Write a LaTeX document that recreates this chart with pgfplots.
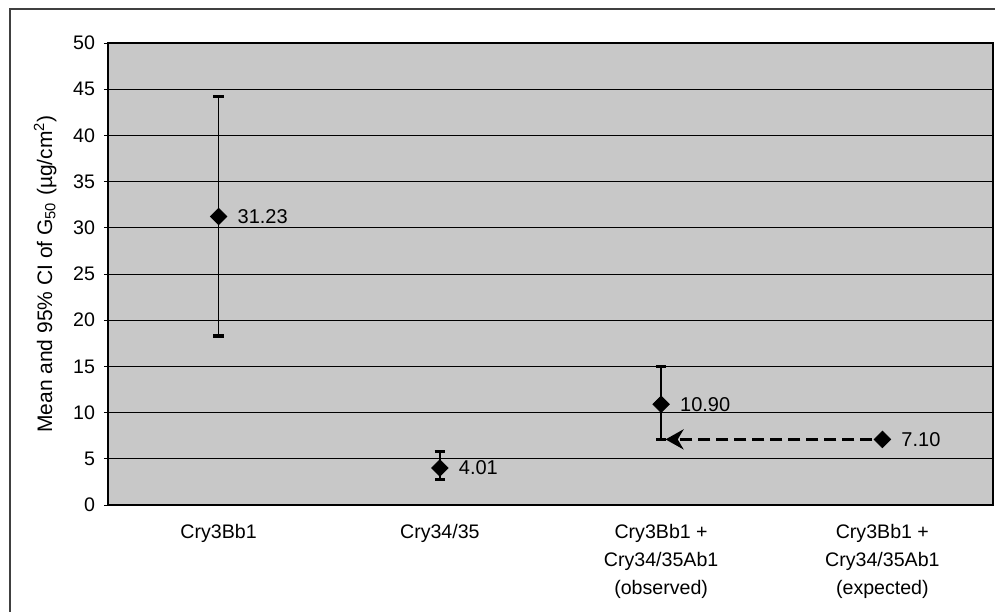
\documentclass[border=0pt]{standalone}
\usepackage{fontspec}
\setmainfont{Liberation Sans}
\usepackage{pgfplots}
\usepackage{pgfplotstable}
\pgfplotsset{compat=1.18}
\usetikzlibrary{arrows.meta}
\definecolor{plotgray}{RGB}{200,200,200}

% mean, upper and lower half-width of the 95% CI
\pgfplotstableread{
x   y     ep    em    lab
0.5 31.23 12.97 12.93 31.23
1.5 4.01  1.79  1.21  4.01
2.5 10.90 4.10  3.80  10.90
}\observed
\pgfplotstableread{
x   y    lab
3.5 7.10 7.10
}\expected

\begin{document}
\begin{tikzpicture}
\path[use as bounding box] (-54pt,-53pt) rectangle (443.5pt,252.5pt);
\draw[line width=0.7pt,black!75] (-49pt,-60pt) -- (-49pt,248pt) -- (450pt,248pt);
\begin{axis}[
  at={(0pt,0pt)}, anchor=south west,
  scale only axis, width=442.5pt, height=231pt,
  xmin=0, xmax=4, ymin=0, ymax=50,
  ytick={0,5,...,50},
  xtick={0.5,1.5,2.5,3.5},
  xticklabels={Cry3Bb1, Cry34/35, {Cry3Bb1 +\\Cry34/35Ab1\\(observed)}, {Cry3Bb1 +\\Cry34/35Ab1\\(expected)}},
  minor xtick={0,1,2,3,4},
  xtick style={draw=none},
  minor x tick style={black, line width=0.5pt},
  ytick style={black, line width=0.5pt},
  tick align=outside, tick pos=left,
  major tick length=2pt, minor tick length=3pt,
  ymajorgrids, grid style={black, line width=0.5pt},
  axis background/.style={fill=plotgray},
  axis line style={black, line width=0.6pt},
  /pgf/number format/assume math mode=true,
  tick label style={font=\fontsize{9.8}{14}\selectfont},
  xticklabel style={align=center, yshift=-4pt},
  yticklabel style={xshift=-1pt},
  ylabel={Mean and 95\% CI of G\textsubscript{50} (µg/cm\textsuperscript{2})},
  ylabel style={font=\fontsize{10.5}{12}\selectfont, at={(axis description cs:-0.071,0.5)}, anchor=center},
  clip=false,
]
\addplot[black, mark=square*, mark options={rotate=45}, mark size=2.9pt, only marks,
  error bars/.cd, y dir=both, y explicit, error mark=|,
  error bar style={line width=0.8pt, black},
  error mark options={line width=1.6pt, mark size=2.6pt, black, rotate=0}]
  table[x=x, y=y, y error plus=ep, y error minus=em] {\observed};
\addplot[only marks, mark=none, point meta=explicit symbolic,
  nodes near coords, nodes near coords style={anchor=west, xshift=6pt, font=\fontsize{10}{12}\selectfont}]
  table[x=x, y=y, meta=lab] {\observed};
\addplot[black, line width=1.9pt, dash pattern=on 6pt off 3pt,
  -{Stealth[length=9pt,width=10pt]}, shorten <=5pt]
  coordinates {(3.5,7.1) (2.52,7.1)};
\addplot[black, mark=square*, mark options={rotate=45}, mark size=2.9pt, only marks,
  point meta=explicit symbolic, nodes near coords,
  nodes near coords style={anchor=west, xshift=6pt, font=\fontsize{10}{12}\selectfont}]
  table[x=x, y=y, meta=lab] {\expected};
\end{axis}
\end{tikzpicture}
\end{document}
